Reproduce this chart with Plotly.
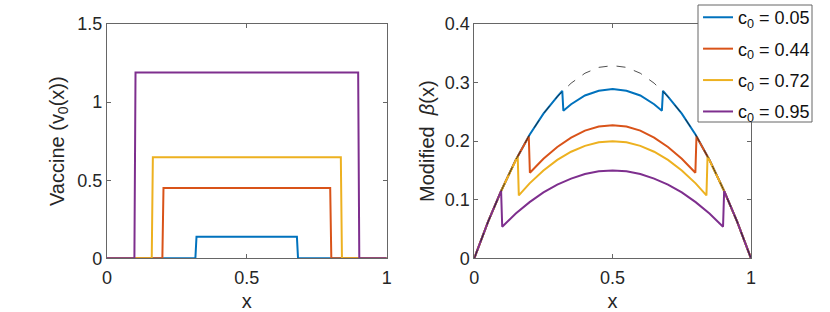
import plotly.graph_objects as go

# ---------------- data ----------------
labels = ["c<sub>0</sub> = 0.05", "c<sub>0</sub> = 0.44", "c<sub>0</sub> = 0.72", "c<sub>0</sub> = 0.95"]
colors = ["#0072BD", "#D95319", "#EDB120", "#7E2F8E"]

# Left panel: vaccine v0(x)
v_x_blue = [0, 0.316, 0.320, 0.679, 0.683, 1]
v_y_blue = [0, 0, 0.138, 0.138, 0, 0]
v_x_red = [0, 0.198, 0.202, 0.798, 0.802, 1]
v_y_red = [0, 0, 0.45, 0.45, 0, 0]
v_x_yellow = [0, 0.160, 0.164, 0.836, 0.840, 1]
v_y_yellow = [0, 0, 0.647, 0.647, 0, 0]
v_x_purple = [0, 0.098, 0.102, 0.898, 0.902, 1]
v_y_purple = [0, 0, 1.19, 1.19, 0, 0]

# Right panel: modified beta(x)
b_x_blue = [0, 0.05, 0.1, 0.15, 0.2, 0.25, 0.3, 0.318, 0.322, 0.35, 0.4, 0.45, 0.5,
            0.55, 0.6, 0.65, 0.678, 0.682, 0.7, 0.75, 0.8, 0.85, 0.9, 0.95, 1]
b_y_blue = [0, 0.0625, 0.118, 0.168, 0.211, 0.247, 0.276, 0.286, 0.252, 0.263, 0.278, 0.286, 0.289,
            0.286, 0.278, 0.263, 0.252, 0.286, 0.276, 0.247, 0.211, 0.168, 0.118, 0.0625, 0]
b_x_red = [0, 0.05, 0.1, 0.15, 0.197, 0.201, 0.25, 0.3, 0.35, 0.4, 0.45, 0.5,
           0.55, 0.6, 0.65, 0.7, 0.75, 0.799, 0.803, 0.85, 0.9, 0.95, 1]
b_y_red = [0, 0.0625, 0.118, 0.168, 0.208, 0.146, 0.170, 0.190, 0.206, 0.218, 0.225, 0.227,
           0.225, 0.218, 0.206, 0.190, 0.170, 0.146, 0.208, 0.168, 0.118, 0.0625, 0]
b_x_yellow = [0, 0.05, 0.1, 0.157, 0.161, 0.2, 0.25, 0.3, 0.35, 0.4, 0.45, 0.5,
              0.55, 0.6, 0.65, 0.7, 0.75, 0.8, 0.839, 0.843, 0.9, 0.95, 1]
b_y_yellow = [0, 0.0625, 0.118, 0.174, 0.1075, 0.128, 0.150, 0.168, 0.182, 0.192, 0.198, 0.200,
              0.198, 0.192, 0.182, 0.168, 0.150, 0.128, 0.1075, 0.174, 0.118, 0.0625, 0]
b_x_purple = [0, 0.05, 0.097, 0.101, 0.15, 0.2, 0.25, 0.3, 0.35, 0.4, 0.45, 0.5,
              0.55, 0.6, 0.65, 0.7, 0.75, 0.8, 0.85, 0.899, 0.903, 0.95, 1]
b_y_purple = [0, 0.0625, 0.115, 0.054, 0.0765, 0.096, 0.1125, 0.126, 0.136, 0.144, 0.1485, 0.150,
              0.1485, 0.144, 0.136, 0.126, 0.1125, 0.096, 0.0765, 0.054, 0.115, 0.0625, 0]

# Unmodified beta (dashed)
beta_x = [0, 0.05, 0.1, 0.15, 0.2, 0.25, 0.3, 0.35, 0.4, 0.45, 0.5,
          0.55, 0.6, 0.65, 0.7, 0.75, 0.8, 0.85, 0.9, 0.95, 1]
beta_y = [0, 0.0625, 0.118, 0.168, 0.211, 0.247, 0.276, 0.299, 0.316, 0.326, 0.329,
          0.326, 0.316, 0.299, 0.276, 0.247, 0.211, 0.168, 0.118, 0.0625, 0]

v_series = [(v_x_blue, v_y_blue), (v_x_red, v_y_red), (v_x_yellow, v_y_yellow), (v_x_purple, v_y_purple)]
b_series = [(b_x_blue, b_y_blue), (b_x_red, b_y_red), (b_x_yellow, b_y_yellow), (b_x_purple, b_y_purple)]

fig = go.Figure()

for (xs, ys), c, lab in zip(v_series, colors, labels):
    fig.add_trace(go.Scatter(x=xs, y=ys, mode="lines", line=dict(color=c, width=2),
                             showlegend=False, xaxis="x", yaxis="y", hoverinfo="skip"))

for i, ((xs, ys), c, lab) in enumerate(zip(b_series, colors, labels)):
    fig.add_trace(go.Scatter(x=xs, y=ys, mode="lines", line=dict(color=c, width=2),
                             name=lab, showlegend=True, legendgroup=f"g{i}",
                             xaxis="x2", yaxis="y2"))

fig.add_trace(go.Scatter(x=beta_x, y=beta_y, mode="lines",
                         line=dict(color="#222222", width=0.8, dash="dash"),
                         showlegend=False, xaxis="x2", yaxis="y2", hoverinfo="skip"))

FONT = "Liberation Sans, Arial, sans-serif"
axis_common = dict(showline=True, linecolor="#666666", linewidth=1, mirror="allticks",
                   ticks="inside", ticklen=4, tickcolor="#666666", showgrid=False, zeroline=False,
                   automargin=False,
                   tickfont=dict(family=FONT, size=18, color="#262626"))

# legend frame drawn as a shape (white box with grey border)
fig.add_shape(type="rect", xref="paper", yref="paper",
              x0=698 / 830, x1=812 / 830, y0=1 - 122 / 312, y1=1 - 5 / 312,
              line=dict(color="#666666", width=1), fillcolor="white", layer="above")

ydom = [0.172, 0.923]
fig.update_layout(
    width=830, height=312,
    margin=dict(l=0, r=0, t=0, b=0, autoexpand=False),
    paper_bgcolor="white", plot_bgcolor="white",
    font=dict(family=FONT, color="#262626"),
    xaxis=dict(domain=[0.1289, 0.4659], range=[0, 1], tickvals=[0, 0.5, 1], ticktext=["0", "0.5", "1"],
               ticklabelstandoff=3,
               title=dict(text="x", font=dict(size=20), standoff=11), anchor="y", **axis_common),
    yaxis=dict(domain=ydom, range=[0, 1.5], tickvals=[0, 0.5, 1, 1.5], ticktext=["0", "0.5", "1", "1.5"],
               title=dict(text="Vaccine (v<sub>0</sub>(x))", font=dict(size=20), standoff=7), anchor="x",
               **axis_common),
    xaxis2=dict(domain=[0.5714, 0.9048], range=[0, 1], tickvals=[0, 0.5, 1], ticktext=["0", "0.5", "1"],
                ticklabelstandoff=3,
                title=dict(text="x", font=dict(size=20), standoff=11), anchor="y2", **axis_common),
    yaxis2=dict(domain=ydom, range=[0, 0.4], tickvals=[0, 0.1, 0.2, 0.3, 0.4],
                ticktext=["0", "0.1", "0.2", "0.3", "0.4"],
                title=dict(text="Modified  <i>β</i>(x)", font=dict(size=20), standoff=4), anchor="x2",
                **axis_common),
    legend=dict(x=0.841, y=1.003, xanchor="left", yanchor="top",
                borderwidth=0, bgcolor="rgba(0,0,0,0)",
                font=dict(family=FONT, size=18, color="#111111"),
                traceorder="grouped", tracegroupgap=5, itemwidth=30),
)

fig.write_html("out.html", config={"displayModeBar": False},
               post_script="document.body.style.margin='0';")
